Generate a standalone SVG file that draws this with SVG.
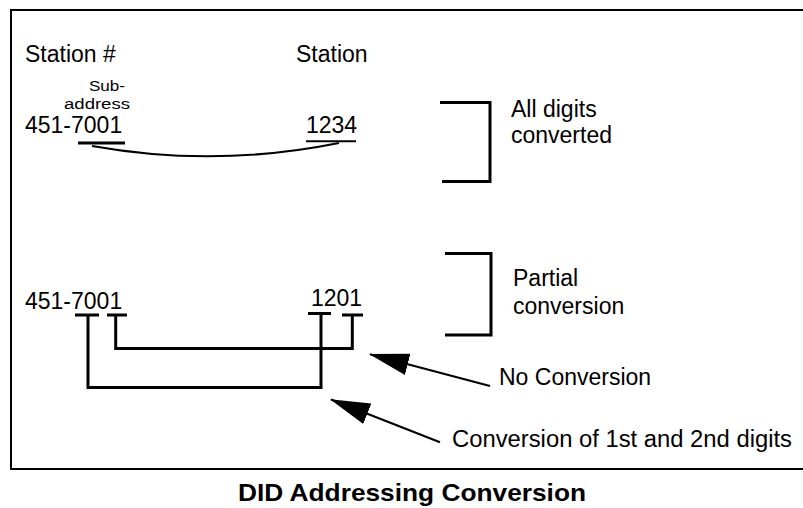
<svg xmlns="http://www.w3.org/2000/svg" width="803" height="508" viewBox="0 0 803 508">
<style>
  text { font-family: "Liberation Sans", Arial, sans-serif; fill: #000; }
  .t { font-size: 23px; }
  .s { font-size: 15.5px; }
  .title { font-size: 24px; font-weight: bold; }
  .ln { fill: none; stroke: #000; stroke-width: 3; }
  .thin { fill: none; stroke: #000; stroke-width: 2; }
  .arr { fill: none; stroke: #000; stroke-width: 2.2; }
</style>
<defs>
  <marker id="ah" markerUnits="userSpaceOnUse" viewBox="0 0 40 22" refX="39" refY="11" markerWidth="40" markerHeight="22" orient="auto">
    <path d="M0,0 L40,11 L0,22 Z" fill="#000"/>
  </marker>
</defs>
<rect x="11" y="10" width="800" height="459" fill="none" stroke="#000" stroke-width="2"/>

<g id="header-station-number"><text class="t" x="25" y="62">Station #</text></g>
<g id="header-station"><text class="t" x="296" y="62">Station</text></g>
<g id="subaddress-label"><text class="s" x="89" y="91" textLength="36" lengthAdjust="spacingAndGlyphs">Sub-</text><text class="s" x="64" y="108.5" textLength="66" lengthAdjust="spacingAndGlyphs">address</text></g>

<g id="top-number"><text class="t" x="25" y="133">451-7001</text></g>
<g id="top-station"><text class="t" x="306" y="133">1234</text></g>
<g id="bracket-all">
  <path class="ln" d="M440,102.5 H490 V181.5 H442"/>
  <text class="t" x="511" y="117">All digits</text>
  <text class="t" x="511" y="143">converted</text>
</g>

<g id="bottom-number"><text class="t" x="25" y="309">451-7001</text></g>
<g id="bottom-station"><text class="t" x="311" y="306">1201</text></g>
<g id="bracket-partial">
  <path class="ln" d="M445,253.5 H491 V335 H445"/>
  <text class="t" x="513" y="286">Partial</text>
  <text class="t" x="513" y="314">conversion</text>
</g>

<g id="label-no-conversion"><text class="t" x="499" y="385">No Conversion</text></g>
<g id="label-conversion-1-2"><text class="t" x="452" y="447" textLength="340" lengthAdjust="spacingAndGlyphs">Conversion of 1st and 2nd digits</text></g>

<g id="connectors">
  <line class="ln" x1="78" y1="143" x2="125" y2="143" stroke-width="2.7"/>
  <line class="thin" x1="306" y1="141.3" x2="356" y2="141.3"/>
  <path class="thin" d="M92,146 Q215,168 339,143"/>

  <path class="ln" d="M75,315 H99 M88,315 V387.5 H321 V313.5 M308,313.5 H331"/>
  <path class="ln" d="M107,315 H127 M115.7,315 V348.5 H352.3 V315 M342,315 H363"/>

  <line class="arr" x1="490" y1="386" x2="370" y2="354.3" marker-end="url(#ah)"/>
  <line class="arr" x1="440" y1="442.3" x2="331" y2="399.5" marker-end="url(#ah)"/>
</g>

<g id="title"><text class="title" x="238" y="501" textLength="348" lengthAdjust="spacingAndGlyphs">DID Addressing Conversion</text></g>
</svg>
